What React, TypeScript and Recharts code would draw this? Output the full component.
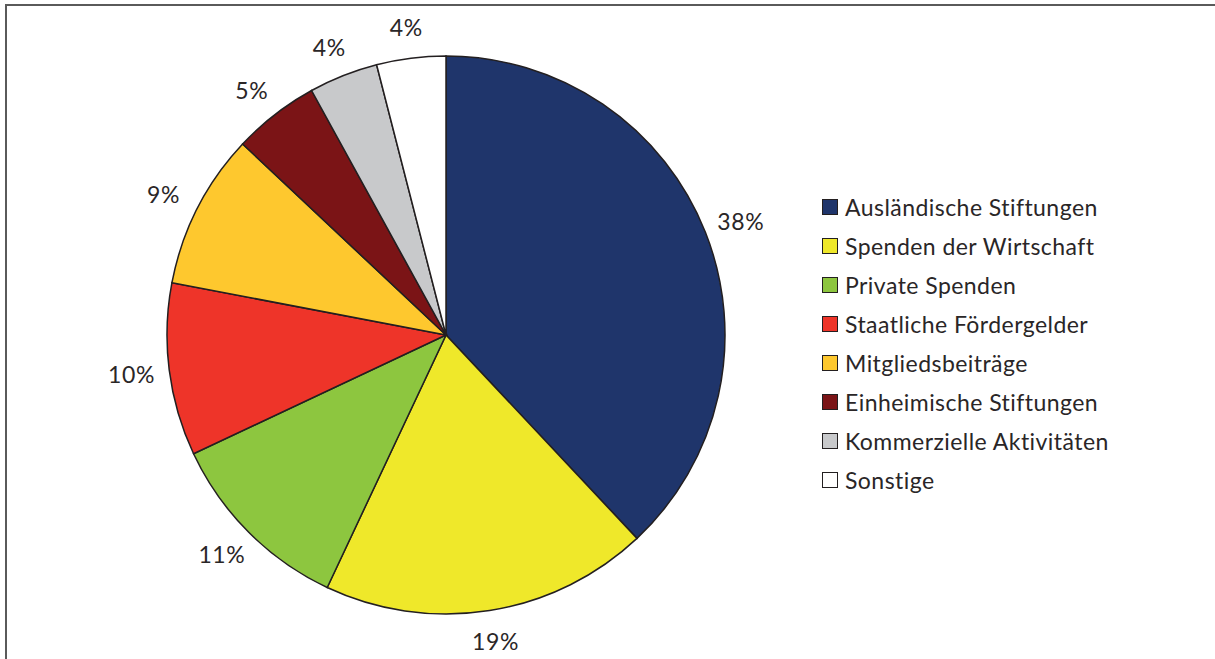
import React from "react";
import { PieChart, Pie, Cell, Legend } from "recharts";

const categories = [
  "Ausländische Stiftungen",
  "Spenden der Wirtschaft",
  "Private Spenden",
  "Staatliche Fördergelder",
  "Mitgliedsbeiträge",
  "Einheimische Stiftungen",
  "Kommerzielle Aktivitäten",
  "Sonstige",
];
const shares = [38, 19, 11, 10, 9, 5, 4, 4];
const colors = ["#1F356B", "#EFE82A", "#8DC63F", "#EE3429", "#FEC82E", "#7B1416", "#C8C9CB", "#FFFFFF"];

const data = categories.map((name, i) => ({ name, value: shares[i] }));

const FONT = "Lato, 'Open Sans', sans-serif";
const TEXT = "#2a2627";

const RAD = Math.PI / 180;
const renderLabel = (props: any) => {
  const { cx, cy, midAngle, outerRadius, value } = props;
  const rx = outerRadius + 38;
  const ry = outerRadius + 31;
  const x = cx + rx * Math.cos(-midAngle * RAD);
  const y = cy + ry * Math.sin(-midAngle * RAD);
  return (
    <text
      x={x}
      y={y}
      textAnchor="middle"
      dominantBaseline="central"
      fill={TEXT}
      fontFamily={FONT}
      fontSize={23}
      letterSpacing={0.6}
    >
      {value}%
    </text>
  );
};

const renderLegend = () => (
  <div style={{ fontFamily: FONT, fontSize: 23, color: TEXT, letterSpacing: 0.45 }}>
    {categories.map((c, i) => (
      <div key={c} style={{ display: "flex", alignItems: "center", height: 38.9 }}>
        <span
          style={{
            display: "inline-block",
            width: 14,
            height: 14,
            background: colors[i],
            border: "1.5px solid #231F20",
            marginRight: 7,
            flexShrink: 0,
          }}
        />
        <span style={{ whiteSpace: "nowrap" }}>{c}</span>
      </div>
    ))}
  </div>
);

export default function App() {
  return (
    <div style={{ position: "absolute", left: 0, top: 0, width: 1215, height: 659, background: "#fff", overflow: "hidden" }}>
      <div
        style={{
          position: "absolute",
          left: 5,
          top: 4,
          width: 1215,
          height: 700,
          borderLeft: "2px solid #5a5a5a",
          borderTop: "2px solid #5a5a5a",
        }}
      />
      <PieChart
        width={1215}
        height={659}
        margin={{ top: 0, right: 0, bottom: 0, left: 0 }}
        style={{ position: "absolute", left: 0, top: 0 }}
      >
        <Pie
          data={data}
          dataKey="value"
          nameKey="name"
          cx={446}
          cy={335}
          outerRadius={279}
          startAngle={90}
          endAngle={-270}
          stroke="#231F20"
          strokeWidth={1.5}
          label={renderLabel}
          labelLine={false}
          isAnimationActive={false}
        >
          {data.map((d, i) => (
            <Cell key={d.name} fill={colors[i]} />
          ))}
        </Pie>
        <Legend
          content={renderLegend}
          wrapperStyle={{ position: "absolute", left: 822, top: 188, width: 390 }}
        />
      </PieChart>
    </div>
  );
}
